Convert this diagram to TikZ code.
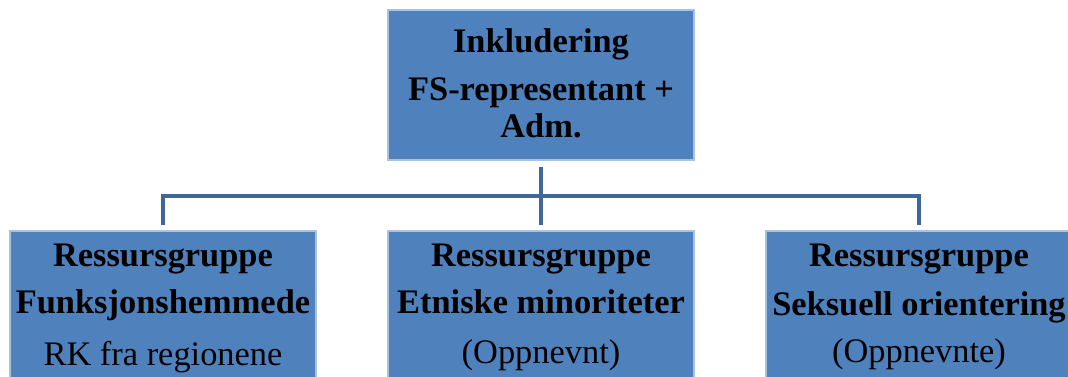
\documentclass[tikz,border=0pt]{standalone}
\usepackage{fontspec}
\setmainfont{Liberation Serif}
\definecolor{boxfill}{HTML}{4F81BD}
\definecolor{boxedge}{HTML}{A9C2E0}
\definecolor{linkcol}{HTML}{41679A}
\begin{document}
\begin{tikzpicture}[x=0.75pt,y=-0.75pt,
  box/.style={draw=boxedge,line width=0.8pt,fill=boxfill,rectangle,inner sep=0pt,minimum width=229.5pt},
  txt/.style={anchor=base,inner sep=0pt,font=\fontsize{25.8}{30}\selectfont},
  btxt/.style={txt,font=\fontsize{25.8}{30}\selectfont\bfseries},
  link/.style={draw=linkcol,line width=3.6pt}]
\useasboundingbox (0,0) rectangle (1068,376);
\clip (0,0) rectangle (1068,376);
% boxes
\node[box,minimum height=112.5pt] (top) at (541,85) {};
\node[box,minimum height=127.5pt] (left) at (163,316) {};
\node[box,minimum height=127.5pt] (mid) at (541,316) {};
\node[box,minimum height=127.5pt] (right) at (919,316) {};
% texts
\node[btxt] (t1) at (541,52) {Inkludering};
\node[btxt] (t2) at (541,100) {FS-representant +};
\node[btxt] (t3) at (541,137) {Adm.};
\node[btxt] (l1) at (163,266) {Ressursgruppe};
\node[btxt] (l2) at (163,313) {Funksjonshemmede};
\node[txt] (l3) at (163,365) {RK fra regionene};
\node[btxt] (m1) at (541,266) {Ressursgruppe};
\node[btxt] (m2) at (541,313) {Etniske minoriteter};
\node[txt] (m3) at (541,363) {(Oppnevnt)};
\node[btxt] (r1) at (919,266) {Ressursgruppe};
\node[btxt] (r2) at (919,315) {Seksuell orientering};
\node[txt] (r3) at (919,362) {(Oppnevnte)};
% connectors
\coordinate (bus) at (541,196);
\draw[link] ([yshift=-4.5pt]top.south) -- ([yshift=4pt]mid.north);
\draw[link] ([yshift=4pt]left.north) |- (bus) -| ([yshift=4pt]right.north);
\end{tikzpicture}
\end{document}
